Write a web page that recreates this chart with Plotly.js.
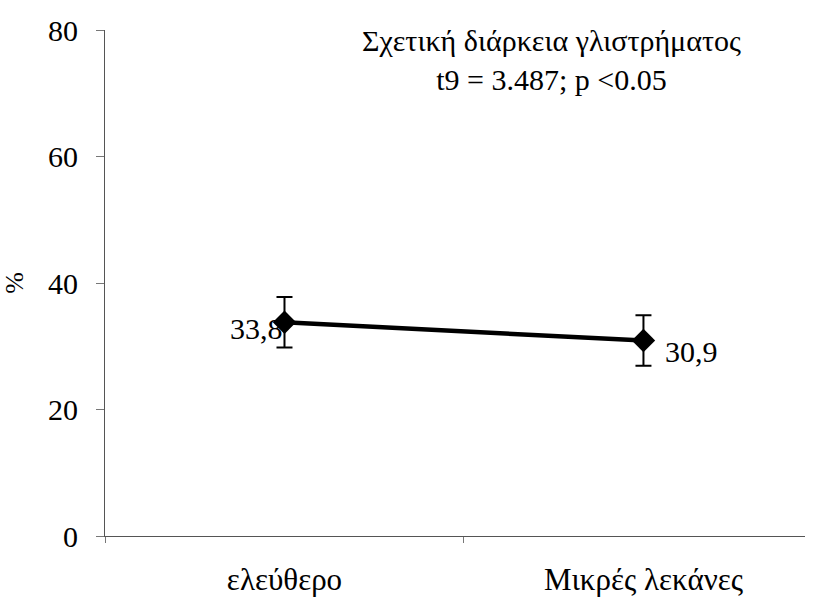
<!DOCTYPE html>
<html>
<head>
<meta charset="utf-8">
<script src="https://cdn.plot.ly/plotly-3.0.1.min.js"></script>
<style>html,body{margin:0;padding:0;background:#fff;}#chart{width:819px;height:597px;}</style>
</head>
<body>
<div id="chart"></div>
<script>
const categories = ["ελεύθερο", "Μικρές λεκάνες"];
const values = [33.8, 30.9];
const errors = [4.0, 4.0];
const yTicks = [0, 20, 40, 60, 80];
const titleLines = ["Σχετική διάρκεια γλιστρήματος", "t9 = 3.487; p <0.05"];

const font = "Liberation Serif";

const trace = {
  x: categories,
  y: values,
  type: "scatter",
  mode: "lines+markers",
  line: {color: "#000", width: 4.5},
  marker: {symbol: "diamond", size: 18, color: "#000"},
  error_y: {type: "data", array: errors, visible: true, color: "#000", thickness: 2, width: 8},
  hoverinfo: "none"
};

const labelAnns = values.map((v, i) => ({
  x: categories[i], y: v, xref: "x", yref: "y",
  text: v.toFixed(1).replace(".", ","),
  showarrow: false,
  xanchor: i === 0 ? "right" : "left",
  yanchor: "middle",
  xshift: i === 0 ? 1 : 20,
  yshift: i === 0 ? -6 : -11,
  font: {family: font, size: 30, color: "#000"}
}));

const layout = {
  width: 819, height: 597,
  margin: {l: 105, r: 14, t: 30, b: 61},
  paper_bgcolor: "#fff", plot_bgcolor: "#fff",
  showlegend: false,
  font: {family: font, color: "#000"},
  xaxis: {
    type: "category",
    range: [-0.5, 1.45],
    showline: true, linecolor: "#555", linewidth: 1,
    showgrid: false, zeroline: false,
    ticks: "outside", ticklen: 6, tickcolor: "#777", tickson: "boundaries",
    ticklabelstandoff: 16,
    tickfont: {family: font, size: 31, color: "#000"}
  },
  yaxis: {
    range: [0, 80],
    tickvals: yTicks,
    ticktext: yTicks.map(String),
    showline: true, linecolor: "#555", linewidth: 1,
    showgrid: false, zeroline: false,
    ticks: "outside", ticklen: 8, tickcolor: "#777",
    ticklabelstandoff: 12,
    tickfont: {family: font, size: 30, color: "#000"},
    title: {text: "%", font: {family: font, size: 26, color: "#000"}, standoff: 16}
  },
  annotations: labelAnns.concat([{
    xref: "paper", yref: "paper",
    x: 0.638, y: 1.015,
    xanchor: "center", yanchor: "top",
    text: titleLines.join("<br>"),
    showarrow: false,
    font: {family: font, size: 30, color: "#000"}
  }])
};

Plotly.newPlot("chart", [trace], layout, {displayModeBar: false, staticPlot: true});
</script>
</body>
</html>
